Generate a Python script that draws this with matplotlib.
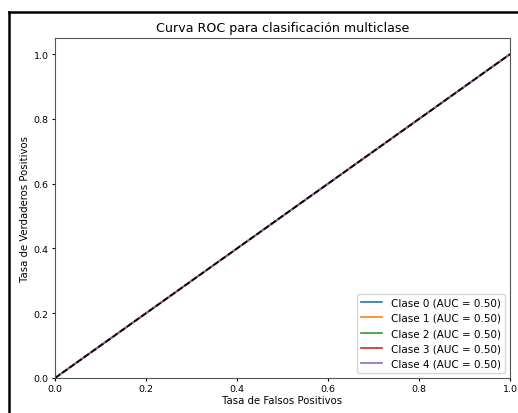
import numpy as np
import matplotlib.pyplot as plt
from matplotlib.lines import Line2D

# datos de la curva ROC (todas las clases quedan en la diagonal)
clases = [0, 1, 2, 3, 4]
auc = [0.50, 0.50, 0.50, 0.50, 0.50]
fpr = [0.0, 1.0]
tpr = [0.0, 1.0]
colores = ['#1f77b4', '#ff7f0e', '#2ca02c', '#d62728', '#9467bd']

fig = plt.figure(figsize=(5.18, 4.14), dpi=100)
ax = fig.add_axes([55/518, 1 - 379/414, (510 - 55)/518, (379 - 39)/414])

for i, c in enumerate(clases):
	ax.plot(fpr, tpr, color=colores[i], lw=1.2, label='Clase %d (AUC = %.2f)' % (c, auc[i]))
ax.plot([0, 1], [0, 1], 'k--', lw=1.2)

ax.set_xlim(0.0, 1.0)
ax.set_ylim(0.0, 1.05)
ax.set_xlabel('Tasa de Falsos Positivos', fontsize=7.3, labelpad=1)
ax.set_ylabel('Tasa de Verdaderos Positivos', fontsize=7.3, labelpad=3)
ax.set_title('Curva ROC para clasificación multiclase', fontsize=9.1, pad=5)
ax.tick_params(labelsize=6.8, length=2.5, pad=2)
for s in ax.spines.values():
	s.set_color('#555555')
ax.legend(loc='lower right', fontsize=7.5, borderaxespad=0.5)

# marco negro de la captura (arriba e izquierda)
fig.add_artist(Line2D([9/518, 9/518], [0, 1 - 13/414], color='black', lw=1.8))
fig.add_artist(Line2D([9/518, 1], [1 - 13/414, 1 - 13/414], color='black', lw=1.8))

plt.savefig('out.png', dpi=100)
plt.close()
